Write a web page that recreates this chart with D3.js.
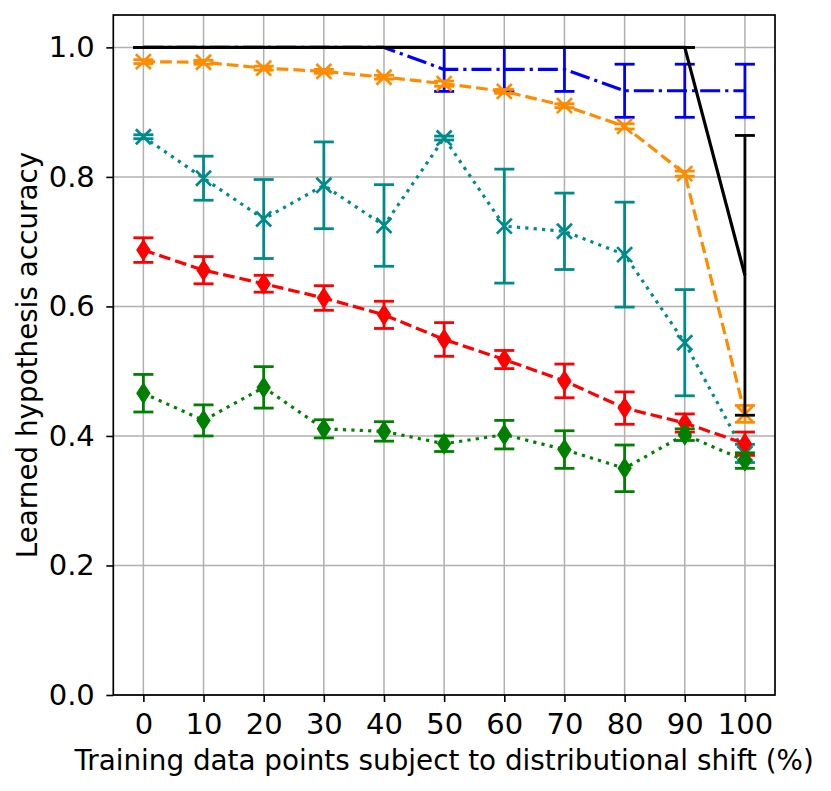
<!DOCTYPE html>
<html>
<head>
<meta charset="utf-8">
<script src="https://cdn.jsdelivr.net/npm/d3@7"></script>
<style>
  html, body { margin: 0; padding: 0; background: #fff; }
  svg { display: block; font-family: "DejaVu Sans", sans-serif; }
</style>
</head>
<body>
<svg id="chart" width="831" height="791"></svg>
<script>
// ---- data ----
const shiftPct = [0, 10, 20, 30, 40, 50, 60, 70, 80, 90, 100];
const yTickValues = [0, 0.2, 0.4, 0.6, 0.8, 1.0];

const blackMean = [1, 1, 1, 1, 1, 1, 1, 1, 1, 1, 0.648];
const blackErr  = [0, 0, 0, 0, 0, 0, 0, 0, 0, 0, 0.216];

const blueMean = [1, 1, 1, 1, 1, 0.966, 0.966, 0.966, 0.933, 0.933, 0.933];
const blueErr  = [0, 0, 0, 0, 0, 0.034, 0.034, 0.034, 0.041, 0.041, 0.041];

const orangeMean = [0.978, 0.977, 0.968, 0.963, 0.954, 0.944, 0.932, 0.910, 0.878, 0.805, 0.434];
const orangeErr  = [0.003, 0.003, 0.003, 0.003, 0.003, 0.004, 0.003, 0.003, 0.004, 0.004, 0.013];

const tealMean = [0.862, 0.798, 0.735, 0.787, 0.725, 0.860, 0.724, 0.716, 0.680, 0.544, 0.373];
const tealErr  = [0.003, 0.034, 0.061, 0.067, 0.063, 0.003, 0.088, 0.059, 0.081, 0.082, 0.014];

const redMean = [0.687, 0.656, 0.635, 0.613, 0.587, 0.549, 0.518, 0.485, 0.443, 0.420, 0.388];
const redErr  = [0.019, 0.021, 0.013, 0.019, 0.021, 0.026, 0.014, 0.026, 0.025, 0.014, 0.018];

const greenMean = [0.466, 0.424, 0.475, 0.411, 0.407, 0.388, 0.402, 0.379, 0.350, 0.402, 0.362];
const greenErr  = [0.029, 0.024, 0.032, 0.014, 0.015, 0.012, 0.022, 0.029, 0.036, 0.009, 0.012];

const xLabel = "Training data points subject to distributional shift (%)";
const yLabel = "Learned hypothesis accuracy";

// ---- layout ----
const pL = 113.3, pR = 775, pT = 15, pB = 695;
const svg = d3.select("#chart");
const x = d3.scaleLinear().domain([-5, 105]).range([pL, pR]);
const y = d3.scaleLinear().domain([0, 1.05]).range([pB, pT]);

// grid
const grid = svg.append("g");
grid.selectAll("line.vx").data(shiftPct).join("line")
  .attr("x1", d => x(d)).attr("x2", d => x(d))
  .attr("y1", pT).attr("y2", pB)
  .attr("stroke", "#b0b0b0").attr("stroke-width", 1.5);
grid.selectAll("line.hy").data(yTickValues).join("line")
  .attr("x1", pL).attr("x2", pR)
  .attr("y1", d => y(d)).attr("y2", d => y(d))
  .attr("stroke", "#b0b0b0").attr("stroke-width", 1.5);

const series = [
  { mean: blueMean, err: blueErr, color: "#0000ff", dash: "20,5,3.2,5", marker: null },
  { mean: orangeMean, err: orangeErr, color: "#ff8c00", dash: "11.7,5", marker: "x" },
  { mean: tealMean, err: tealErr, color: "#008b8b", dash: "3.2,5.2", marker: "x" },
  { mean: redMean, err: redErr, color: "#ff0000", dash: "11.7,5", marker: "d" },
  { mean: greenMean, err: greenErr, color: "#008000", dash: "3.2,5.2", marker: "d" },
  { mean: blackMean, err: blackErr, color: "#000000", dash: null, marker: null }
];

const line = d3.line().x(d => x(d[0])).y(d => y(d[1]));
const plot = svg.append("g");
const cap = 10;

series.forEach(s => {
  const pts = shiftPct.map((v, i) => [v, s.mean[i], s.err[i]]);
  const g = plot.append("g");
  g.append("path").datum(pts)
    .attr("d", line)
    .attr("fill", "none")
    .attr("stroke", s.color)
    .attr("stroke-width", 3.2)
    .attr("stroke-dasharray", s.dash)
    .attr("stroke-linejoin", "round");
  // error bars
  const eb = g.selectAll("g.eb").data(pts).join("g");
  eb.append("line")
    .attr("x1", d => x(d[0])).attr("x2", d => x(d[0]))
    .attr("y1", d => y(d[1] - d[2])).attr("y2", d => y(d[1] + d[2]))
    .attr("stroke", s.color).attr("stroke-width", 2.8);
  [-1, 1].forEach(sign => {
    eb.append("line")
      .attr("x1", d => x(d[0]) - cap).attr("x2", d => x(d[0]) + cap)
      .attr("y1", d => y(d[1] + sign * d[2])).attr("y2", d => y(d[1] + sign * d[2]))
      .attr("stroke", s.color).attr("stroke-width", 2.8);
  });
  // markers
  if (s.marker === "x") {
    const r = 7.5;
    g.selectAll("path.mk").data(pts).join("path")
      .attr("d", d => {
        const cx = x(d[0]), cy = y(d[1]);
        return `M${cx - r},${cy - r}L${cx + r},${cy + r}M${cx - r},${cy + r}L${cx + r},${cy - r}`;
      })
      .attr("stroke", s.color).attr("stroke-width", 2.7).attr("fill", "none");
  } else if (s.marker === "d") {
    const w = 6.5, h = 10;
    g.selectAll("path.mk").data(pts).join("path")
      .attr("d", d => {
        const cx = x(d[0]), cy = y(d[1]);
        return `M${cx},${cy - h}L${cx + w},${cy}L${cx},${cy + h}L${cx - w},${cy}Z`;
      })
      .attr("fill", s.color).attr("stroke", s.color).attr("stroke-width", 1.2);
  }
});

// axes
const xAxis = svg.append("g").attr("transform", `translate(0,${pB})`)
  .call(d3.axisBottom(x).tickValues(shiftPct).tickFormat(d3.format("d")).tickSize(7).tickPadding(11).tickSizeOuter(0));
const yAxis = svg.append("g").attr("transform", `translate(${pL},0)`)
  .call(d3.axisLeft(y).tickValues(yTickValues).tickFormat(d3.format(".1f")).tickSize(7).tickPadding(11.5).tickSizeOuter(0));
[xAxis, yAxis].forEach(a => {
  a.select(".domain").remove();
  a.selectAll(".tick line").attr("stroke", "#000").attr("stroke-width", 1.6);
  a.selectAll(".tick text").attr("fill", "#000").style("font-size", "29px").style("font-family", "DejaVu Sans");
});

// frame
svg.append("rect").attr("x", pL).attr("y", pT)
  .attr("width", pR - pL).attr("height", pB - pT)
  .attr("fill", "none").attr("stroke", "#000").attr("stroke-width", 1.7);

// labels
svg.append("text").attr("x", (pL + pR) / 2).attr("y", 770)
  .attr("text-anchor", "middle").style("font-size", "27.8px").text(xLabel);
svg.append("text").attr("transform", `translate(37,${(pT + pB) / 2}) rotate(-90)`)
  .attr("text-anchor", "middle").style("font-size", "27.8px").text(yLabel);
</script>
</body>
</html>
